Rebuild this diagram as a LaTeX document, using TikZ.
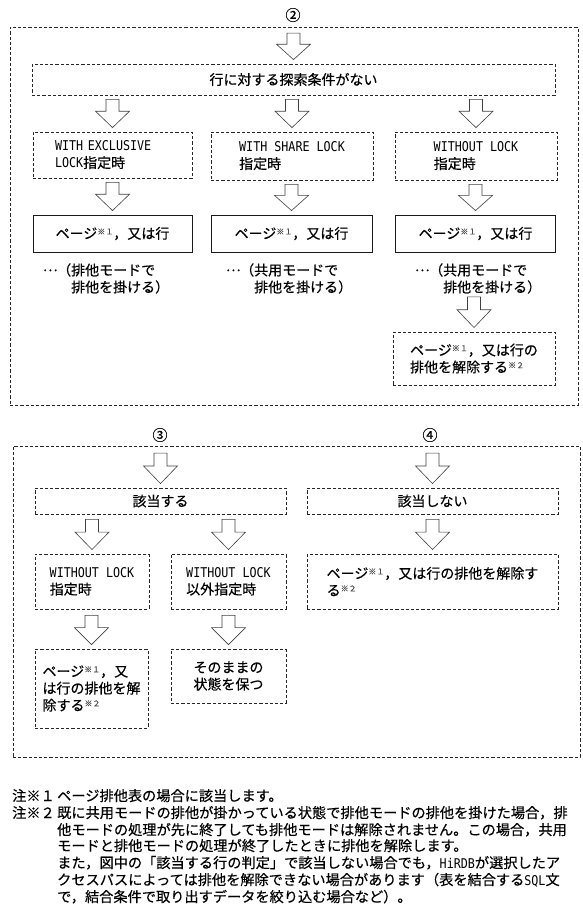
\documentclass[tikz,border=0pt]{standalone}
\usepackage{fontspec}
\setmainfont{Noto Sans CJK JP}[FakeBold=0.35]
\newfontfamily\latmono{DejaVu Sans Mono}
\usetikzlibrary{calc}

\newcommand\kome[1]{\raisebox{0.55ex}{\textcolor{black!70}{\fontsize{8}{8}\selectfont ※#1}}}
\newcommand\lat[1]{{\latmono\fontsize{11.7}{14}\selectfont\scalebox{1}[1.15]{#1}}}
\newcommand\mydots{\makebox[1em][c]{\raisebox{0.3em}{…}}}

\tikzset{
  dbox/.style={draw=black!85, dash pattern=on 3.2pt off 2pt, line width=0.85pt, inner sep=0pt},
  sbox/.style={draw=black!90, line width=0.85pt, inner sep=0pt},
  blockarr/.style={draw=black!75, fill=white, line width=0.6pt, line join=miter},
  txt/.style={inner sep=0pt, align=left, font=\fontsize{14}{17}\selectfont},
  ctxt/.style={inner sep=0pt, align=center, font=\fontsize{14}{17}\selectfont},
  lab/.style={inner sep=0pt, font=\fontsize{15}{17}\selectfont},
  note/.style={inner sep=0pt, anchor=base west, font=\fontsize{14.2}{17}\selectfont},
}

% block arrow from point #2 (source) down to point #3 (target), #1 = top gap
\newcommand\barrow[3][4pt]{%
  \draw[blockarr] let \p1=#2, \p2=#3 in
    (\x2-6.5pt,\y1-#1) -- (\x2+6.5pt,\y1-#1)
    -- (\x2+6.5pt,{\y2+4pt+0.58*(\y1-#1-\y2-4pt)})
    -- (\x2+17pt,{\y2+4pt+0.58*(\y1-#1-\y2-4pt)})
    -- (\x2,\y2+4pt)
    -- (\x2-17pt,{\y2+4pt+0.58*(\y1-#1-\y2-4pt)})
    -- (\x2-6.5pt,{\y2+4pt+0.58*(\y1-#1-\y2-4pt)}) -- cycle;}

\begin{document}
\begin{tikzpicture}[x=1pt,y=-1pt]
\useasboundingbox (0,0) rectangle (583,915);

% ---------------- Section (2)
\node[lab] (l2) at (293,15) {②};
\node[dbox, minimum width=568, minimum height=378] (F1) at (294,216) {};
\node[dbox, ctxt, minimum width=523, minimum height=31] (A) at (293.5,79.5) {行に対する探索条件がない};

\node[dbox, txt, text width=115, minimum width=159, minimum height=46] (B1) at (112.5,155) {\lat{WITH EXCLUSIVE}\\\lat{LOCK}指定時};
\node[dbox, txt, minimum width=162, minimum height=48] (B2) at (292,156) {\lat{WITH SHARE LOCK}\\指定時};
\node[dbox, txt, minimum width=162, minimum height=48] (B3) at (476,156) {\lat{WITHOUT LOCK}\\指定時};

\node[sbox, ctxt, minimum width=159, minimum height=37] (C1) at (112.5,233.5) {ページ\kome{１}，又は行};
\node[sbox, ctxt, minimum width=161, minimum height=37] (C2) at (291.5,233.5) {ページ\kome{１}，又は行};
\node[sbox, ctxt, minimum width=160, minimum height=37] (C3) at (475.5,233.5) {ページ\kome{１}，又は行};

\node[txt, anchor=west] (D1) at (43,278.5) {\mydots（排他モードで\\\hspace*{2em}排他を掛ける）};
\node[txt, anchor=west] (D2) at (226,278.5) {\mydots（共用モードで\\\hspace*{2em}排他を掛ける）};
\node[txt, anchor=west] (D3) at (415,278.5) {\mydots（共用モードで\\\hspace*{2em}排他を掛ける）};

\node[dbox, txt, minimum width=162, minimum height=53] (E) at (474,358.5) {ページ\kome{１}，又は行の\\排他を解除する\kome{２}};

\barrow[11pt]{(l2.south)}{(A.north)}
\barrow{(A.south)}{(B1.north)}
\barrow{(A.south)}{(B2.north)}
\barrow{(A.south)}{(B3.north)}
\barrow{(B1.south)}{(C1.north)}
\barrow{(B2.south)}{(C2.north)}
\barrow{(B3.south)}{(C3.north)}
\barrow[3pt]{(D3.south)}{(E.north)}

% ---------------- Sections (3) and (4)
\node[lab] (l3) at (160,435) {③};
\node[lab] (l4) at (430,435) {④};
\node[dbox, minimum width=567, minimum height=311] (F2) at (296.5,601.5) {};

\node[dbox, ctxt, minimum width=251, minimum height=26] (G1) at (160.5,501) {該当する};
\node[dbox, ctxt, minimum width=251, minimum height=26] (G2) at (432.5,501) {該当しない};

\node[dbox, txt, minimum width=114, minimum height=55] (H1) at (92,581.5) {\lat{WITHOUT LOCK}\\指定時};
\node[dbox, txt, minimum width=115, minimum height=55] (H2) at (228.5,581.5) {\lat{WITHOUT LOCK}\\以外指定時};
\node[dbox, txt, minimum width=251, minimum height=55] (H3) at (432.5,581.5) {ページ\kome{１}，又は行の排他を解除す\\る\kome{２}};

\node[dbox, txt, minimum width=113, minimum height=79] (I1) at (91.5,688.5) {ページ\kome{１}，又\\は行の排他を解\\除する\kome{２}};
\node[dbox, ctxt, minimum width=115, minimum height=54] (I2) at (228.5,676) {そのままの\\状態を保つ};

\barrow[11pt]{(l3.south)}{(G1.north)}
\barrow[11pt]{(l4.south)}{(G2.north)}
\barrow[5pt]{(G1.south)}{(H1.north)}
\barrow[5pt]{(G1.south)}{(H2.north)}
\barrow[5pt]{(G2.south)}{(H3.north)}
\barrow[6pt]{(H1.south)}{(I1.north)}
\barrow[6pt]{(H2.south)}{(I2.north)}

% ---------------- Notes
\node[note] (n1) at (12,801) {注※１};
\node[note] (n1t) at (57,801) {ページ排他表の場合に該当します。};
\node[note] (n2) at (12,818) {注※２};
\node[note] (n2a) at (57,818) {既に共用モードの排他が掛かっている状態で排他モードの排他を掛けた場合，排};
\node[note] (n2b) at (57,835) {他モードの処理が先に終了しても排他モードは解除されません。この場合，共用};
\node[note] (n2c) at (57,851) {モードと排他モードの処理が終了したときに排他を解除します。};
\node[note] (n2d) at (57,868) {また，図中の「該当する行の判定」で該当しない場合でも，\lat{HiRDB}が選択したア};
\node[note] (n2e) at (57,885) {クセスパスによっては排他を解除できない場合があります（表を結合する\lat{SQL}文};
\node[note] (n2f) at (57,902) {で，結合条件で取り出すデータを絞り込む場合など）。};
\end{tikzpicture}
\end{document}
